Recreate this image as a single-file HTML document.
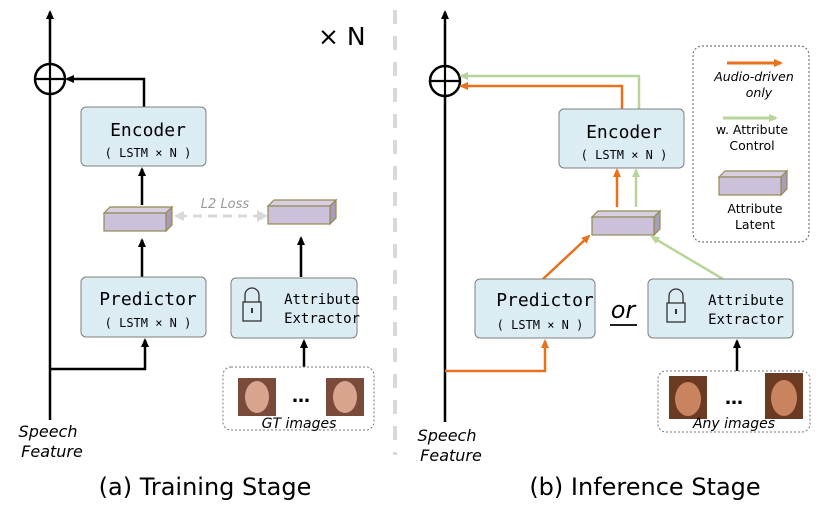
<!DOCTYPE html>
<html><head><style>
html,body{margin:0;padding:0;background:#fff}
svg{display:block}
.mono{font-family:"DejaVu Sans Mono","Liberation Mono",monospace}
.it{font-family:"DejaVu Sans","Liberation Sans",sans-serif;font-style:italic}
.sans{font-family:"DejaVu Sans","Liberation Sans",sans-serif}
</style></head><body>
<svg width="830" height="518" viewBox="0 0 830 518" xmlns="http://www.w3.org/2000/svg">
<defs>
<marker id="ab" markerWidth="10" markerHeight="10" refX="7" refY="5" orient="auto" markerUnits="userSpaceOnUse"><path d="M0,1 L9,5 L0,9 z" fill="#000"/></marker>
<marker id="ao" markerWidth="10" markerHeight="10" refX="7" refY="5" orient="auto" markerUnits="userSpaceOnUse"><path d="M0,1 L9,5 L0,9 z" fill="#e8711c"/></marker>
<marker id="ag" markerWidth="10" markerHeight="10" refX="7" refY="5" orient="auto" markerUnits="userSpaceOnUse"><path d="M0,1 L9,5 L0,9 z" fill="#b7d59a"/></marker>
<marker id="agr" markerWidth="12" markerHeight="12" refX="9" refY="6" orient="auto" markerUnits="userSpaceOnUse"><path d="M0,0 L11,6 L0,12 z" fill="#d9d9d9"/></marker>
<g id="latent">
<path d="M0,6 L6,0 L68,0 L62,6 z" fill="#d8d0e2" stroke="#948a54" stroke-width="1.2"/>
<path d="M62,6 L68,0 L68,18 L62,24 z" fill="#a89cb6" stroke="#948a54" stroke-width="1.2"/>
<rect x="0" y="6" width="62" height="18" fill="#ccc1da" stroke="#948a54" stroke-width="1.2"/>
</g>
<g id="lock">
<path d="M-7,0 V-7 A7,7 0 0 1 7,-7 V0" fill="none" stroke="#333" stroke-width="1.3"/>
<rect x="-9" y="0" width="18" height="19" fill="none" stroke="#333" stroke-width="1.3"/>
<rect x="-1" y="6" width="2" height="5" fill="#333"/>
</g>
</defs>

<line x1="395" y1="10" x2="395" y2="455" stroke="#d9d9d9" stroke-width="4" stroke-dasharray="14,12"/>

<!-- LEFT -->
<line x1="50" y1="420" x2="50" y2="12" stroke="#000" stroke-width="2.5" marker-end="url(#ab)"/>
<circle cx="50" cy="79" r="15" fill="#fff" stroke="#000" stroke-width="2.5"/>
<line x1="35" y1="79" x2="65" y2="79" stroke="#000" stroke-width="2.2"/>
<line x1="50" y1="64" x2="50" y2="94" stroke="#000" stroke-width="2.2"/>
<text x="318" y="45" class="sans" font-size="25">× N</text>

<polyline points="144,107 144,79 67,79" fill="none" stroke="#000" stroke-width="2.5" marker-end="url(#ab)"/>
<rect x="81" y="107" width="125" height="59" rx="5" fill="#dbecf3" stroke="#7f7f7f" stroke-width="1"/>
<text x="148" y="136" class="mono" font-size="18" text-anchor="middle">Encoder</text>
<text x="148" y="157" class="mono" font-size="12" text-anchor="middle">( LSTM × N )</text>

<line x1="142" y1="205" x2="142" y2="169" stroke="#000" stroke-width="2.5" marker-end="url(#ab)"/>
<use href="#latent" x="104" y="207"/>
<use href="#latent" x="268" y="200"/>
<line x1="178" y1="216" x2="266" y2="216" stroke="#d9d9d9" stroke-width="3" stroke-dasharray="9,6" marker-end="url(#agr)"/>
<path d="M174,216 L184,211 L184,221 z" fill="#d9d9d9"/>
<text x="225" y="208" class="it" font-size="13" fill="#999" text-anchor="middle">L2 Loss</text>

<line x1="142" y1="277" x2="142" y2="240" stroke="#000" stroke-width="2.5" marker-end="url(#ab)"/>
<line x1="301" y1="277" x2="301" y2="238" stroke="#000" stroke-width="2.5" marker-end="url(#ab)"/>

<rect x="81" y="277" width="125" height="60" rx="5" fill="#dbecf3" stroke="#7f7f7f" stroke-width="1"/>
<text x="148" y="305" class="mono" font-size="18" text-anchor="middle">Predictor</text>
<text x="148" y="327" class="mono" font-size="12" text-anchor="middle">( LSTM × N )</text>

<rect x="231" y="278" width="126" height="60" rx="5" fill="#dbecf3" stroke="#7f7f7f" stroke-width="1"/>
<use href="#lock" x="252" y="302"/>
<text x="322" y="304" class="mono" font-size="14" text-anchor="middle">Attribute</text>
<text x="322" y="323" class="mono" font-size="14" text-anchor="middle">Extractor</text>

<polyline points="50,369 145,369 145,340" fill="none" stroke="#000" stroke-width="2.5" marker-end="url(#ab)"/>
<line x1="304" y1="367" x2="304" y2="341" stroke="#000" stroke-width="2.5" marker-end="url(#ab)"/>

<rect x="223" y="367" width="151" height="63" rx="8" fill="#fff" stroke="#777" stroke-width="1" stroke-dasharray="2,2"/>
<rect x="238" y="378" width="38" height="38" fill="#7a4a3a"/><ellipse cx="257" cy="397" rx="12" ry="16" fill="#d9a48e"/>
<rect x="326" y="378" width="38" height="38" fill="#7a4a3a"/><ellipse cx="345" cy="397" rx="12" ry="16" fill="#d9a48e"/>
<text x="301" y="402" class="sans" font-size="18" text-anchor="middle" font-weight="bold">…</text>
<text x="299" y="428" class="it" font-size="14" text-anchor="middle">GT images</text>

<text x="48" y="437" class="it" font-size="16" text-anchor="middle">Speech</text>
<text x="52" y="457" class="it" font-size="16" text-anchor="middle">Feature</text>
<text x="205" y="495" class="sans" font-size="24" text-anchor="middle">(a) Training Stage</text>

<!-- RIGHT -->
<line x1="445" y1="422" x2="445" y2="12" stroke="#000" stroke-width="2.5" marker-end="url(#ab)"/>
<circle cx="445" cy="81" r="15" fill="#fff" stroke="#000" stroke-width="2.5"/>
<line x1="430" y1="81" x2="460" y2="81" stroke="#000" stroke-width="2.2"/>
<line x1="445" y1="66" x2="445" y2="96" stroke="#000" stroke-width="2.2"/>

<polyline points="639,109 639,76 461,76" fill="none" stroke="#b7d59a" stroke-width="2.5" marker-end="url(#ag)"/>
<polyline points="622,109 622,86 461,86" fill="none" stroke="#e8711c" stroke-width="2.5" marker-end="url(#ao)"/>

<rect x="559" y="109" width="125" height="59" rx="5" fill="#dbecf3" stroke="#7f7f7f" stroke-width="1"/>
<text x="624" y="138" class="mono" font-size="18" text-anchor="middle">Encoder</text>
<text x="624" y="159" class="mono" font-size="12" text-anchor="middle">( LSTM × N )</text>

<line x1="617" y1="207" x2="617" y2="170" stroke="#e8711c" stroke-width="2.5" marker-end="url(#ao)"/>
<line x1="636" y1="207" x2="636" y2="170" stroke="#b7d59a" stroke-width="2.5" marker-end="url(#ag)"/>
<use href="#latent" x="592" y="211"/>

<line x1="543" y1="279" x2="589" y2="236" stroke="#e8711c" stroke-width="2.5" marker-end="url(#ao)"/>
<line x1="723" y1="279" x2="652" y2="237" stroke="#b7d59a" stroke-width="2.5" marker-end="url(#ag)"/>

<rect x="475" y="279" width="120" height="59" rx="5" fill="#dbecf3" stroke="#7f7f7f" stroke-width="1"/>
<text x="545" y="306" class="mono" font-size="18" text-anchor="middle">Predictor</text>
<text x="540" y="329" class="mono" font-size="12" text-anchor="middle">( LSTM × N )</text>

<text x="623" y="318" class="it" font-size="24" text-anchor="middle">or</text>
<line x1="610" y1="325" x2="637" y2="325" stroke="#000" stroke-width="1.8"/>

<rect x="648" y="279" width="145" height="59" rx="5" fill="#dbecf3" stroke="#7f7f7f" stroke-width="1"/>
<use href="#lock" x="676" y="303"/>
<text x="746" y="305" class="mono" font-size="14" text-anchor="middle">Attribute</text>
<text x="746" y="324" class="mono" font-size="14" text-anchor="middle">Extractor</text>

<polyline points="445,371 545,371 545,341" fill="none" stroke="#e8711c" stroke-width="2.5" marker-end="url(#ao)"/>
<line x1="737" y1="371" x2="737" y2="341" stroke="#000" stroke-width="2.5" marker-end="url(#ab)"/>

<rect x="658" y="371" width="152" height="61" rx="8" fill="#fff" stroke="#777" stroke-width="1" stroke-dasharray="2,2"/>
<rect x="669" y="376" width="38" height="43" fill="#6b3a22"/><ellipse cx="688" cy="399" rx="13" ry="17" fill="#c9835f"/>
<rect x="765" y="373" width="38" height="46" fill="#6b3a22"/><ellipse cx="784" cy="398" rx="13" ry="18" fill="#c9835f"/>
<text x="734" y="404" class="sans" font-size="18" text-anchor="middle" font-weight="bold">…</text>
<text x="734" y="428" class="it" font-size="14" text-anchor="middle">Any images</text>

<text x="447" y="441" class="it" font-size="16" text-anchor="middle">Speech</text>
<text x="451" y="461" class="it" font-size="16" text-anchor="middle">Feature</text>
<text x="645" y="495" class="sans" font-size="24" text-anchor="middle">(b) Inference Stage</text>

<!-- legend -->
<rect x="693" y="46" width="116" height="196" rx="9" fill="#fff" stroke="#777" stroke-width="1.2" stroke-dasharray="2,2"/>
<line x1="727" y1="63" x2="781" y2="63" stroke="#e8711c" stroke-width="3" marker-end="url(#ao)"/>
<text x="754" y="81" class="it" font-size="12.5" text-anchor="middle">Audio-driven</text>
<text x="759" y="97" class="it" font-size="12.5" text-anchor="middle">only</text>
<line x1="723" y1="118" x2="776" y2="118" stroke="#b7d59a" stroke-width="3" marker-end="url(#ag)"/>
<text x="752" y="134" class="sans" font-size="12.5" text-anchor="middle">w. Attribute</text>
<text x="752" y="150" class="sans" font-size="12.5" text-anchor="middle">Control</text>
<use href="#latent" x="719" y="171"/>
<text x="755" y="213" class="sans" font-size="12.5" text-anchor="middle">Attribute</text>
<text x="755" y="229" class="sans" font-size="12.5" text-anchor="middle">Latent</text>
</svg>
</body></html>
